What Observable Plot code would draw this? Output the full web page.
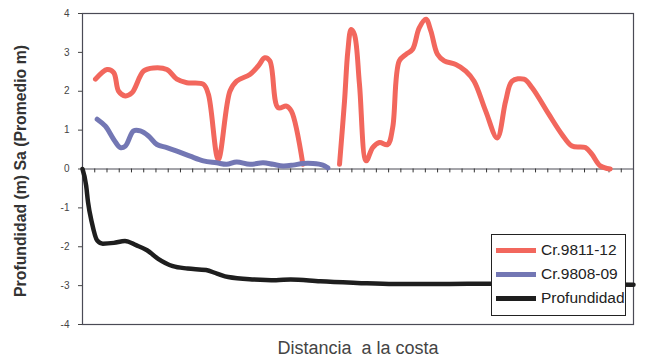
<!DOCTYPE html>
<html>
<head>
<meta charset="utf-8">
<script src="https://cdn.jsdelivr.net/npm/d3@7"></script>
<script src="https://cdn.jsdelivr.net/npm/@observablehq/plot@0.6"></script>
<style>
  html, body { margin: 0; padding: 0; background: #fff; }
  #wrap { position: relative; width: 645px; height: 362px; font-family: "Liberation Sans", Arial, sans-serif; }
  #legend { position: absolute; left: 491px; top: 234px; width: 135px; height: 82px; border: 1px solid #222; background: #fff; box-sizing: border-box; }
  .row { position: absolute; left: 0; height: 24px; display: flex; align-items: center; }
  .sw { width: 40px; height: 5px; margin-left: 4px; margin-right: 5px; }
  .lab { font-size: 15.5px; color: #222; }
</style>
</head>
<body>
<div id="wrap"></div>
<script>
// Series: Cr.9811-12 (null = gap in the line)
const redX = [1.06, 2.01, 2.55, 2.95, 3.5, 4.04, 4.99, 5.8, 6.89, 7.71, 8.52, 9.87, 10.28, 11.09, 12.04, 12.59, 13.67, 14.35, 14.89, 15.3, 15.97, 16.66, 17.06, 18.0, 19.5,
  20.99, 21.4, 21.67, 21.94, 22.21, 22.62, 23.17, 23.7, 24.25, 24.92, 25.33, 25.87, 26.42, 26.96, 27.5, 28.05, 28.45, 28.99, 29.54, 30.49, 31.3, 31.98, 32.93, 33.87, 34.56, 35.09, 36.05, 36.72, 38.08, 39.16, 39.98, 41.07, 41.6, 42.29, 43.1];
const redY = [2.31, 2.56, 2.48, 2.0, 1.88, 1.96, 2.52, 2.6, 2.56, 2.31, 2.22, 2.18, 1.92, 0.25, 2.0, 2.26, 2.43, 2.65, 2.86, 2.78, 1.58, 1.62, 1.49, 0.12, null,
  0.12, 1.75, 3.03, 3.59, 3.46, 2.18, 0.21, 0.55, 0.68, 0.63, 1.06, 2.78, 2.95, 3.08, 3.63, 3.85, 3.55, 2.95, 2.78, 2.69, 2.52, 2.26, 1.49, 0.80, 1.75, 2.26, 2.31, 2.09, 1.41, 0.89, 0.59, 0.55, 0.38, 0.08, 0.0];
// Series: Cr.9808-09
const blueX = [1.2, 1.87, 2.55, 3.09, 3.5, 4.17, 4.72, 5.39, 6.08, 6.89, 7.71, 8.79, 9.87, 10.96, 11.77, 12.59, 13.67, 14.75, 15.57, 16.38, 17.19, 18.0, 18.82, 19.63, 20.04];
const blueY = [1.28, 1.1, 0.76, 0.55, 0.59, 0.98, 0.98, 0.85, 0.63, 0.55, 0.46, 0.33, 0.21, 0.16, 0.12, 0.18, 0.12, 0.16, 0.12, 0.08, 0.1, 0.14, 0.14, 0.1, 0.03];
// Series: Profundidad
const depthX = [0, 0.3, 0.45, 0.76, 1.2, 1.66, 2.56, 3.47, 4.37, 5.27, 6.18, 7.38, 8.58, 10.09, 10.98, 11.9, 14.0, 15.81, 17.0, 19.42, 22.43, 25.44, 28.45, 31.47, 33.42, 45];
const depthY = [0, -0.43, -0.85, -1.37, -1.84, -1.92, -1.9, -1.85, -1.96, -2.09, -2.31, -2.5, -2.56, -2.6, -2.69, -2.78, -2.84, -2.86, -2.84, -2.89, -2.93, -2.96, -2.96, -2.95, -2.95, -2.98];

const seriesNames = ["Cr.9811-12", "Cr.9808-09", "Profundidad"];
const seriesColors = ["#f2675d", "#7377b4", "#1e1e1e"];
const yTicks = [-4, -3, -2, -1, 0, 1, 2, 3, 4];
const xTicks = d3.range(1, 45);
const yLabel = "Profundidad (m) Sa (Promedio m)";
const xLabel = "Distancia  a la costa";

const toRows = (xs, ys) => xs.map((x, i) => ({x, y: ys[i]}));
const red = toRows(redX, redY);
const blue = toRows(blueX, blueY);
const depth = toRows(depthX, depthY);

const chart = Plot.plot({
  width: 645,
  height: 362,
  marginLeft: 82,
  marginRight: 12,
  marginTop: 13,
  marginBottom: 38,
  style: {fontFamily: "Liberation Sans, Arial, sans-serif", background: "#fff"},
  x: {domain: [0, 45], axis: null},
  y: {domain: [-4, 4], axis: null},
  marks: [
    Plot.frame({stroke: "#4a4a55", strokeWidth: 1.2}),
    Plot.ruleY([0], {stroke: "#4a4a55", strokeWidth: 1}),
    Plot.ruleX(xTicks, {x: d => d, y1: 0, y2: -0.1, stroke: "#333", strokeWidth: 1}),
    Plot.axisY({ticks: yTicks, tickSize: 4, tickPadding: 9, fontSize: 10, color: "#444", label: null, tickFormat: d => String(d)}),
    Plot.line(red, {x: "x", y: "y", stroke: seriesColors[0], strokeWidth: 5, curve: "catmull-rom"}),
    Plot.line(blue, {x: "x", y: "y", stroke: seriesColors[1], strokeWidth: 5, curve: "catmull-rom"}),
    Plot.line(depth, {x: "x", y: "y", stroke: seriesColors[2], strokeWidth: 4.5, curve: "monotone-x"}),
    Plot.text([yLabel], {text: d => d, frameAnchor: "left", textAnchor: "middle", rotate: -90, dx: -62, dy: 2, fontSize: 15.8, fontWeight: "bold", fill: "#333"}),
    Plot.text([xLabel], {text: d => d, frameAnchor: "bottom", dy: 29, fontSize: 18, fill: "#444"})
  ]
});

const wrap = document.getElementById("wrap");
wrap.appendChild(chart);
const legend = document.createElement("div");
legend.id = "legend";
seriesNames.forEach((name, i) => {
  const row = document.createElement("div");
  row.className = "row";
  row.style.top = (3 + i * 24) + "px";
  const sw = document.createElement("div");
  sw.className = "sw";
  sw.style.background = seriesColors[i];
  const lab = document.createElement("span");
  lab.className = "lab";
  lab.textContent = name;
  row.appendChild(sw);
  row.appendChild(lab);
  legend.appendChild(row);
});
wrap.appendChild(legend);
</script>
</body>
</html>
